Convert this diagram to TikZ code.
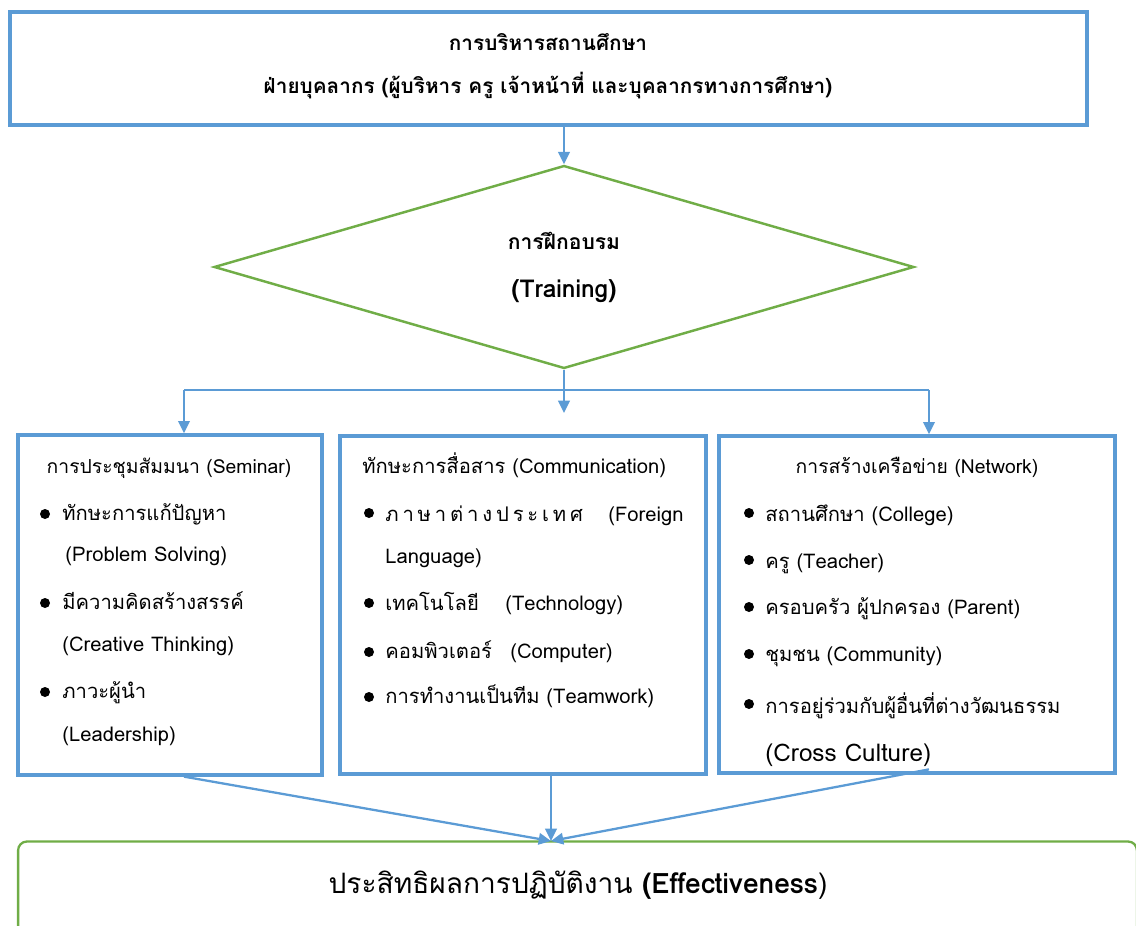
\documentclass[tikz,border=0pt]{standalone}
\usepackage{fontspec}
\setmainfont[Script=Thai]{Loma}
\usetikzlibrary{shapes.geometric,arrows.meta}
\definecolor{boxblue}{HTML}{5B9BD5}
\definecolor{boxgreen}{HTML}{70AD47}
\newcommand{\lgap}{\hspace{2.2pt}}
\tikzset{
  bluebox/.style={draw=boxblue,line width=1.9pt,rectangle,inner sep=0},
  greenline/.style={draw=boxgreen,line width=1.4pt},
  flow/.style={draw=boxblue,line width=1.3pt,-{Triangle[length=7pt,width=6.5pt]}},
  txt/.style={anchor=base west,inner sep=0,font=\fontsize{11.5}{13}\selectfont},
  head/.style={anchor=base,inner sep=0,font=\fontsize{11.8}{14}\selectfont\bfseries},
  dot/.style={fill=black},
}
\begin{document}
\begin{tikzpicture}[x=0.02cm,y=-0.02cm]
\useasboundingbox (0,0) rectangle (1136,926);
\clip (0,0) rectangle (1136,926);

\node[bluebox,minimum width=21.54cm,minimum height=2.26cm] (admin) at (548.5,68.5) {};
\node[head] (admin1) at (548,51) {การบริหารสถานศึกษา};
\node[head] (admin2) at (548,93) {ฝ่ายบุคลากร (ผู้บริหาร ครู เจ้าหน้าที่ และบุคลากรทางการศึกษา)};

\node[diamond,greenline,minimum width=14cm,minimum height=4.06cm,inner sep=0] (train) at (564,267) {};
\node[head,font=\fontsize{12}{14}\selectfont\bfseries] (train1) at (564,249) {การฝึกอบรม};
\node[head,font=\fontsize{14}{16}\selectfont\bfseries] (train2) at (564,297) {(Training)};

\node[bluebox,minimum width=6.08cm,minimum height=6.8cm] (seminar) at (170,605) {};
\node[bluebox,minimum width=7.32cm,minimum height=6.76cm] (comm) at (523,605) {};
\node[bluebox,minimum width=7.92cm,minimum height=6.74cm] (network) at (917,604.5) {};
\node[draw=boxgreen,line width=1.3pt,rounded corners=5pt,minimum width=22.38cm,minimum height=2.1cm] (effect) at (577.5,894) {};

\coordinate (lsplit) at (184,390);
\coordinate (rsplit) at (929,390);
\coordinate (mid) at (564,413);
\coordinate (join) at (551,841);

\draw[flow] (admin.south -| train.north) -- (train.north);
\draw[flow] (train.south) -- (mid);
\draw[draw=boxblue,line width=0.8pt] (lsplit) -- (rsplit);
\draw[flow] (lsplit) -- (lsplit |- seminar.north);
\draw[flow] (rsplit) -- (rsplit |- network.north);
\draw[flow] (lsplit |- seminar.south) -- (join);
\draw[flow] (join |- comm.south) -- (join);
\draw[flow] ([yshift=3pt]rsplit |- network.south) -- (join);

% Seminar
\node[head,font=\fontsize{11}{13}\selectfont] (sem0) at (169,473) {การประชุมสัมมนา (Seminar)};
\node[txt] (sem1) at (62,520) {ทักษะการแก้ปัญหา};
\node[txt] (sem2) at (65,561) {(Problem Solving)};
\node[txt] (sem3) at (62,609) {มีความคิดสร้างสรรค์};
\node[txt] (sem4) at (62,651) {(Creative Thinking)};
\node[txt] (sem5) at (62,698) {ภาวะผู้นำ};
\node[txt] (sem6) at (62,741) {(Leadership)};
\foreach \y in {514,603,692} \fill[dot] (45,\y) circle (5);

% Communication
\node[txt] (com0) at (362,473) {ทักษะการสื่อสาร (Communication)};
\node[txt] (com1) at (385,521) {\makebox[4.46cm][l]{ภ\lgap า\lgap ษ\lgap า\lgap ต่\lgap า\lgap ง\lgap ป\lgap ร\lgap ะ\lgap เ\lgap ท\lgap ศ}(Foreign};
\node[txt] (com2) at (385,563) {Language)};
\node[txt] (com3) at (385,610) {\makebox[2.4cm][l]{เทคโนโลยี}(Technology)};
\node[txt] (com4) at (385,658) {\makebox[2.5cm][l]{คอมพิวเตอร์}(Computer)};
\node[txt] (com5) at (385,703) {การทำงานเป็นทีม (Teamwork)};
\foreach \y in {513,603,652,697} \fill[dot] (369,\y) circle (5);

% Network
\node[head,font=\fontsize{11}{13}\selectfont] (net0) at (917,473) {การสร้างเครือข่าย (Network)};
\node[txt] (net1) at (765,521) {สถานศึกษา (College)};
\node[txt] (net2) at (765,568) {ครู (Teacher)};
\node[txt] (net3) at (765,614) {ครอบครัว ผู้ปกครอง (Parent)};
\node[txt] (net4) at (765,661) {ชุมชน (Community)};
\node[txt] (net5) at (765,713) {การอยู่ร่วมกับผู้อื่นที่ต่างวัฒนธรรม};
\node[txt,font=\fontsize{13.8}{16}\selectfont] (net6) at (765,761) {(Cross Culture)};
\foreach \y in {513,560,607,654,704} \fill[dot] (749,\y) circle (5);

\node[head,font=\fontsize{16}{18}\selectfont] (eff) at (578,893) {ประสิทธิผลการปฏิบัติงาน \textbf{(Effectiveness})};

\end{tikzpicture}
\end{document}
